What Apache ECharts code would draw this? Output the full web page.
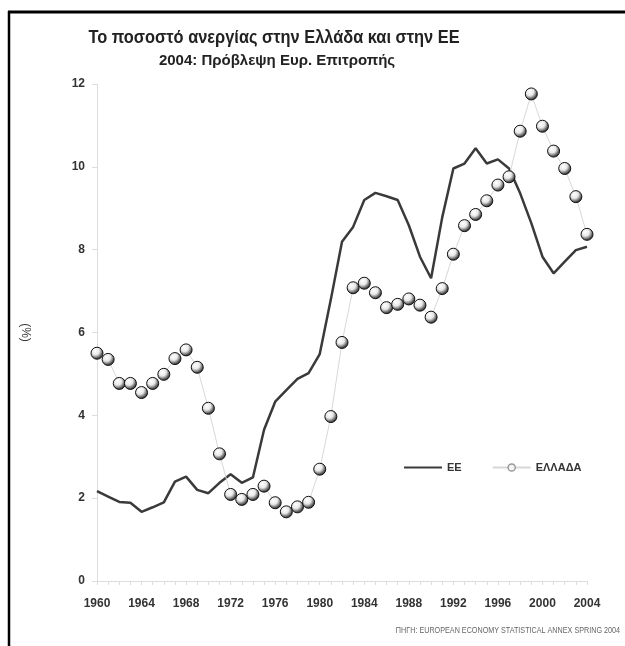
<!DOCTYPE html>
<html>
<head>
<meta charset="utf-8">
<script src="https://cdn.jsdelivr.net/npm/echarts@6/dist/echarts.min.js"></script>
<style>
html,body{margin:0;padding:0;background:#fff;}
#chart{width:625px;height:646px;}
</style>
</head>
<body>
<div id="chart"></div>
<script>
const years = [];
for (let y = 1960; y <= 2004; y++) years.push(String(y));

const euValues = [2.17,2.04,1.91,1.89,1.67,1.78,1.90,2.40,2.52,2.20,
                  2.12,2.37,2.58,2.37,2.50,3.65,4.33,4.61,4.88,5.02,
                  5.48,6.80,8.19,8.55,9.20,9.37,9.29,9.20,8.59,7.83,
                  7.31,8.78,9.96,10.08,10.45,10.08,10.18,9.96,9.36,8.64,
                  7.83,7.43,7.71,7.99,8.07];
const greeceValues = [5.50,5.35,4.77,4.77,4.55,4.77,4.99,5.37,5.58,5.16,
                      4.17,3.07,2.09,1.97,2.09,2.29,1.89,1.67,1.79,1.90,
                      2.70,3.97,5.76,7.08,7.19,6.96,6.60,6.68,6.81,6.66,
                      6.37,7.06,7.89,8.58,8.85,9.18,9.56,9.76,10.86,11.76,
                      10.98,10.38,9.96,9.28,8.37];
const seriesNames = ['ΕΕ', 'ΕΛΛΑΔΑ'];
const titleText = 'Το ποσοστό ανεργίας στην Ελλάδα και στην ΕΕ';
const subtitleText = '2004: Πρόβλεψη Ευρ. Επιτροπής';
const yAxisName = '(%)';
const sourceText = 'ΠΗΓΗ: EUROPEAN ECONOMY STATISTICAL ANNEX SPRING 2004';

const FONT = '"Liberation Sans", Arial, sans-serif';

const chart = echarts.init(document.getElementById('chart'), null, {renderer: 'canvas'});

const ballColor = {
  type: 'radial', x: 0.38, y: 0.33, r: 0.75,
  colorStops: [
    {offset: 0, color: '#ffffff'},
    {offset: 0.4, color: '#e8e8e8'},
    {offset: 0.75, color: '#555555'},
    {offset: 1, color: '#111111'}
  ]
};

chart.setOption({
  backgroundColor: '#ffffff',
  animation: false,
  legend: {
    left: 398,
    top: 457,
    itemWidth: 38,
    itemHeight: 9,
    itemGap: 30,
    textStyle: {fontFamily: FONT, fontSize: 11, fontWeight: 'bold', color: '#333'},
    data: [
      {name: seriesNames[0], itemStyle: {opacity: 0}},
      {name: seriesNames[1], itemStyle: {color: '#f4f4f4', borderColor: '#999999', borderWidth: 1.5}}
    ]
  },
  grid: {left: 97, right: 38, top: 84, bottom: 65, containLabel: false},
  xAxis: {
    type: 'category',
    data: years,
    boundaryGap: false,
    axisLine: {lineStyle: {color: '#dddddd', width: 1}},
    axisTick: {show: true, interval: 0, length: 4, lineStyle: {color: '#dddddd'}},
    axisLabel: {
      interval: 3,
      margin: 17,
      fontFamily: FONT, fontSize: 12, fontWeight: 'bold', color: '#333'
    },
    splitLine: {show: false}
  },
  yAxis: {
    type: 'value',
    min: 0, max: 12, interval: 2,
    name: yAxisName,
    nameLocation: 'middle',
    nameGap: 66,
    nameRotate: 270,
    nameTextStyle: {fontFamily: FONT, fontSize: 12, color: '#333'},
    axisLine: {show: true, lineStyle: {color: '#dddddd', width: 1}},
    axisTick: {show: true, length: 5, lineStyle: {color: '#dddddd'}},
    axisLabel: {margin: 12, fontFamily: FONT, fontSize: 12, fontWeight: 'bold', color: '#333'},
    splitLine: {show: false}
  },
  series: [{
    name: seriesNames[0],
    type: 'line',
    data: euValues,
    showSymbol: false,
    symbol: 'none',
    lineStyle: {color: '#3a3a3a', width: 2.5},
    itemStyle: {color: '#3a3a3a'},
    z: 3
  }, {
    name: seriesNames[1],
    type: 'line',
    data: greeceValues,
    symbol: 'circle',
    symbolSize: 12,
    showSymbol: true,
    showAllSymbol: true,
    lineStyle: {color: '#d8d8d8', width: 1},
    itemStyle: {color: ballColor, borderColor: '#111111', borderWidth: 1},
    z: 4
  }],
  graphic: [{
    type: 'line',
    shape: {x1: 8, y1: 12, x2: 625, y2: 12},
    style: {stroke: '#000', lineWidth: 3}
  }, {
    type: 'line',
    shape: {x1: 9, y1: 11, x2: 9, y2: 646},
    style: {stroke: '#000', lineWidth: 2.5}
  }, {
    type: 'text',
    x: 274, y: 38,
    scaleX: 0.91,
    style: {text: titleText, fontFamily: FONT, fontSize: 18, fontWeight: 'bold', fill: '#222',
            align: 'center', verticalAlign: 'middle'}
  }, {
    type: 'text',
    x: 277, y: 61,
    style: {text: subtitleText, fontFamily: FONT, fontSize: 15, fontWeight: 'bold', fill: '#222',
            align: 'center', verticalAlign: 'middle'}
  }, {
    type: 'text',
    x: 620, y: 631,
    scaleX: 0.8,
    style: {text: sourceText, fontFamily: FONT, fontSize: 9, fill: '#666',
            align: 'right', verticalAlign: 'middle'}
  }]
});
</script>
</body>
</html>
